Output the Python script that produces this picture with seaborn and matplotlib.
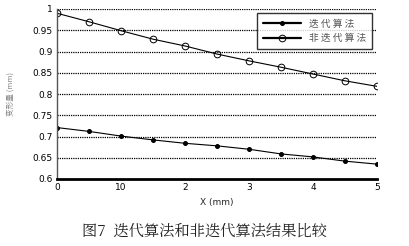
import matplotlib
matplotlib.use("Agg")
import matplotlib.pyplot as plt
import seaborn as sns
import pandas as pd

x_vals = [0, 0.5, 1, 1.5, 2, 2.5, 3, 3.5, 4, 4.5, 5]
iterative = [0.721, 0.712, 0.701, 0.692, 0.684, 0.678, 0.670, 0.659, 0.652, 0.642, 0.635]
non_iterative = [0.990, 0.970, 0.949, 0.929, 0.913, 0.894, 0.878, 0.863, 0.847, 0.831, 0.818]
series_names = ["迭 代 算 法", "非 迭 代 算 法"]
x_ticks = [0, 1, 2, 3, 4, 5]
x_tick_labels = ["0", "10", "2", "3", "4", "5"]
y_ticks = [0.6, 0.65, 0.7, 0.75, 0.8, 0.85, 0.9, 0.95, 1.0]
y_tick_labels = ["0.6", "0.65", "0.7", "0.75", "0.8", "0.85", "0.9", "0.95", "1"]
x_label = "X (mm)"
y_label = "变形量 (mm)"
caption = "图7  迭代算法和非迭代算法结果比较"

sns.set_theme(style="white")
plt.rcParams['font.family'] = ['Noto Sans CJK SC', 'DejaVu Sans']

df1 = pd.DataFrame({"x": x_vals, "y": iterative})
df2 = pd.DataFrame({"x": x_vals, "y": non_iterative})

fig = plt.figure(figsize=(4.09, 2.46), dpi=100)
ax = fig.add_axes([57 / 409, 1 - 179 / 246, (377 - 57) / 409, (179 - 9) / 246])

sns.lineplot(data=df1, x="x", y="y", ax=ax, color="black", lw=0.8,
             marker="o", markersize=2.8, markerfacecolor="black",
             markeredgecolor="black", label=series_names[0])
sns.lineplot(data=df2, x="x", y="y", ax=ax, color="black", lw=0.8,
             marker="o", markersize=4.8, markerfacecolor="none",
             markeredgecolor="black", markeredgewidth=0.7, label=series_names[1])

ax.set_xlim(0, 5)
ax.set_ylim(0.6, 1.0)
ax.set_xticks(x_ticks)
ax.set_xticklabels(x_tick_labels, fontsize=6.5, family=['DejaVu Sans'])
ax.set_yticks(y_ticks)
ax.set_yticklabels(y_tick_labels, fontsize=6.5, family=['DejaVu Sans'])
ax.tick_params(axis='both', direction='in', length=2, width=0.6, pad=3, colors='black')
for yv in y_ticks[1:]:
    ax.axhline(yv, color='black', lw=0.9, ls=(0, (1, 0.8)), zorder=0)

for s in ['top', 'right']:
    ax.spines[s].set_visible(False)
ax.spines['left'].set_color('#555555')
ax.spines['left'].set_linewidth(1.0)
ax.spines['bottom'].set_color('black')
ax.spines['bottom'].set_linewidth(2.0)

ax.set_xlabel(x_label, fontsize=6.5, family=['DejaVu Sans'], labelpad=4)
ax.set_ylabel(y_label, fontsize=5.5, color='#888888', labelpad=12)

leg = ax.legend(loc='upper right', bbox_to_anchor=(0.99, 0.985), fontsize=7,
                frameon=True, fancybox=False, edgecolor='black', handlelength=4.0,
                borderpad=0.55, labelspacing=0.45, handletextpad=0.8,
                borderaxespad=0.2)
leg.get_frame().set_linewidth(1.0)
for t in leg.get_texts():
    t.set_color('#555555')
for h in leg.get_lines():
    h.set_linewidth(1.6)

fig.text(0.5, 1 - 231 / 246, caption, ha='center', va='center', fontsize=11,
         family=['Noto Serif CJK SC', 'Noto Sans CJK SC', 'DejaVu Sans'], color='#222222')

fig.savefig("out.png", dpi=100)
